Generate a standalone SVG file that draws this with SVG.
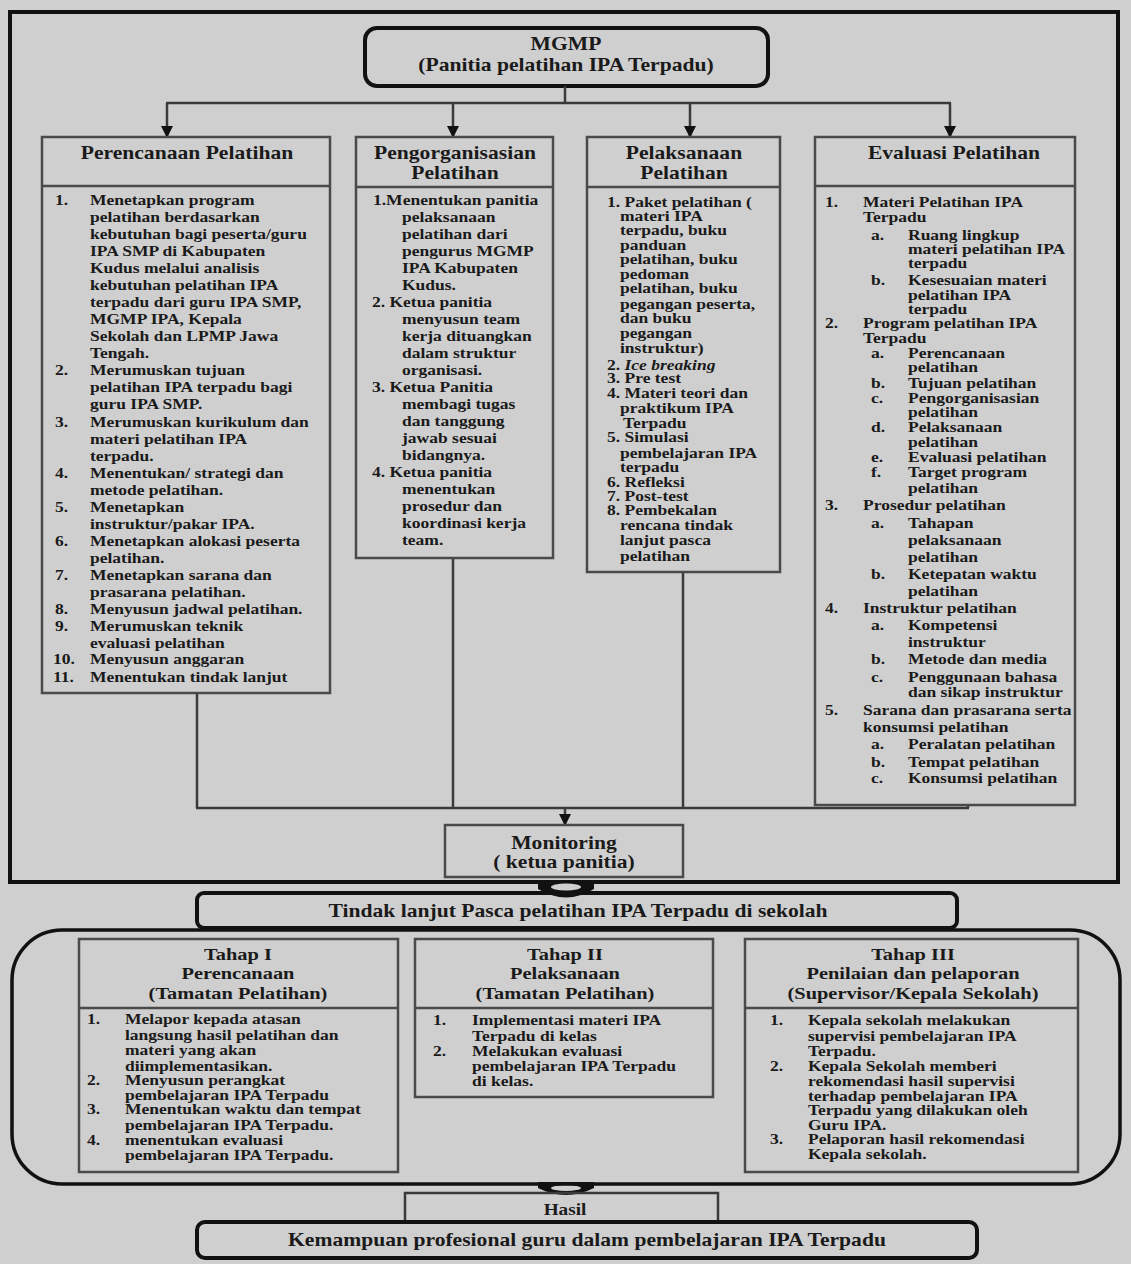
<svg xmlns="http://www.w3.org/2000/svg" width="1131" height="1264" viewBox="0 0 1131 1264">
<style>
.t{font-family:"Liberation Serif","Times New Roman",serif;font-weight:bold;font-size:14.6px;fill:#1a1a1a}
.h{font-size:18px;text-anchor:middle}
.h2{font-size:17px}
.it{font-style:italic}
.box{fill:none;stroke:#4a4a4a;stroke-width:2.5}
.hd{stroke:#4a4a4a;stroke-width:2.5}
.thick{fill:none;stroke:#111;stroke-width:4}
.con{fill:none;stroke:#3a3a3a;stroke-width:2.5}
</style>
<defs>
<marker id="ah" markerUnits="userSpaceOnUse" markerWidth="12" markerHeight="12" refX="11" refY="6" orient="auto" viewBox="0 0 12 12">
<path d="M0,0 L12,6 L0,12 Z" fill="#111"/>
</marker>
</defs>
<rect width="1131" height="1264" fill="#cfcfcf"/>
<rect x="10" y="12" width="1108" height="870" class="thick"/>

<g id="mgmp">
<rect x="365" y="28" width="403" height="58" rx="12" class="thick"/>
<g transform="scale(1.2 1)">
<text class="t h" x="471.67" y="50">MGMP</text>
<text class="t h" x="471.67" y="71">(Panitia pelatihan IPA Terpadu)</text>
</g>
</g>

<g id="connectors">
<line x1="565" y1="86" x2="565" y2="103" class="con"/>
<line x1="166" y1="103" x2="951" y2="103" class="con"/>
<line x1="167" y1="103" x2="167" y2="137" class="con" marker-end="url(#ah)"/>
<line x1="453" y1="103" x2="453" y2="137" class="con" marker-end="url(#ah)"/>
<line x1="690" y1="103" x2="690" y2="137" class="con" marker-end="url(#ah)"/>
<line x1="950" y1="103" x2="950" y2="137" class="con" marker-end="url(#ah)"/>
<line x1="197" y1="693" x2="197" y2="808" class="con"/>
<line x1="453" y1="558" x2="453" y2="808" class="con"/>
<line x1="683" y1="572" x2="683" y2="808" class="con"/>
<line x1="968" y1="805" x2="968" y2="808" class="con"/>
<line x1="196" y1="808" x2="969" y2="808" class="con"/>
<line x1="565" y1="808" x2="565" y2="825" class="con" marker-end="url(#ah)"/>
<path d="M538,880 L594,880 L594,889 Q566,906 538,889 Z" fill="#111"/>
<ellipse cx="566" cy="887" rx="15" ry="3.5" fill="#cfcfcf"/>
<path d="M538,1182 L594,1182 L594,1188 Q566,1202 538,1188 Z" fill="#111"/>
<ellipse cx="566" cy="1188" rx="15" ry="3" fill="#cfcfcf"/>
</g>

<g id="perencanaan">
<rect x="42" y="137" width="288" height="556" class="box"/>
<line x1="42" y1="186" x2="330" y2="186" class="hd"/>
<g transform="scale(1.2 1)">
<text class="t h" x="155.83" y="159">Perencanaan Pelatihan</text>
<text class="t" x="45.83" y="205">1.</text>
<text class="t" x="75" y="205">Menetapkan program</text>
<text class="t" x="75" y="222">pelatihan berdasarkan</text>
<text class="t" x="75" y="239">kebutuhan bagi peserta/guru</text>
<text class="t" x="75" y="256">IPA SMP di Kabupaten</text>
<text class="t" x="75" y="273">Kudus melalui analisis</text>
<text class="t" x="75" y="290">kebutuhan pelatihan IPA</text>
<text class="t" x="75" y="307">terpadu dari guru IPA SMP,</text>
<text class="t" x="75" y="324">MGMP IPA, Kepala</text>
<text class="t" x="75" y="341">Sekolah dan LPMP Jawa</text>
<text class="t" x="75" y="358">Tengah.</text>
<text class="t" x="45.83" y="375">2.</text>
<text class="t" x="75" y="375">Merumuskan tujuan</text>
<text class="t" x="75" y="392">pelatihan IPA terpadu bagi</text>
<text class="t" x="75" y="409">guru IPA SMP.</text>
<text class="t" x="45.83" y="427">3.</text>
<text class="t" x="75" y="427">Merumuskan kurikulum dan</text>
<text class="t" x="75" y="444">materi  pelatihan IPA</text>
<text class="t" x="75" y="461">terpadu.</text>
<text class="t" x="45.83" y="478">4.</text>
<text class="t" x="75" y="478">Menentukan/ strategi dan</text>
<text class="t" x="75" y="495">metode pelatihan.</text>
<text class="t" x="45.83" y="512">5.</text>
<text class="t" x="75" y="512">Menetapkan</text>
<text class="t" x="75" y="529">instruktur/pakar IPA.</text>
<text class="t" x="45.83" y="546">6.</text>
<text class="t" x="75" y="546">Menetapkan alokasi peserta</text>
<text class="t" x="75" y="563">pelatihan.</text>
<text class="t" x="45.83" y="580">7.</text>
<text class="t" x="75" y="580">Menetapkan sarana dan</text>
<text class="t" x="75" y="597">prasarana pelatihan.</text>
<text class="t" x="45.83" y="614">8.</text>
<text class="t" x="75" y="614">Menyusun jadwal pelatihan.</text>
<text class="t" x="45.83" y="631">9.</text>
<text class="t" x="75" y="631">Merumuskan teknik</text>
<text class="t" x="75" y="648">evaluasi pelatihan</text>
<text class="t" x="44.17" y="664">10.</text>
<text class="t" x="75" y="664">Menyusun anggaran</text>
<text class="t" x="44.17" y="682">11.</text>
<text class="t" x="75" y="682">Menentukan tindak lanjut</text>
</g>
</g>

<g id="pengorganisasian">
<rect x="356" y="137" width="197" height="421" class="box"/>
<line x1="356" y1="187" x2="553" y2="187" class="hd"/>
<g transform="scale(1.2 1)">
<text class="t h" x="379.17" y="159">Pengorganisasian</text>
<text class="t h" x="379.17" y="179">Pelatihan</text>
<text class="t" x="310.83" y="205">1.Menentukan panitia</text>
<text class="t" x="335" y="222">pelaksanaan</text>
<text class="t" x="335" y="239">pelatihan dari</text>
<text class="t" x="335" y="256">pengurus MGMP</text>
<text class="t" x="335" y="273">IPA Kabupaten</text>
<text class="t" x="335" y="290">Kudus.</text>
<text class="t" x="310" y="307">2. Ketua panitia</text>
<text class="t" x="335" y="324">menyusun team</text>
<text class="t" x="335" y="341">kerja dituangkan</text>
<text class="t" x="335" y="358">dalam struktur</text>
<text class="t" x="335" y="375">organisasi.</text>
<text class="t" x="310" y="392">3. Ketua Panitia</text>
<text class="t" x="335" y="409">membagi tugas</text>
<text class="t" x="335" y="426">dan tanggung</text>
<text class="t" x="335" y="443">jawab sesuai</text>
<text class="t" x="335" y="460">bidangnya.</text>
<text class="t" x="310" y="477">4. Ketua panitia</text>
<text class="t" x="335" y="494">menentukan</text>
<text class="t" x="335" y="511">prosedur dan</text>
<text class="t" x="335" y="528">koordinasi kerja</text>
<text class="t" x="335" y="545">team.</text>
</g>
</g>

<g id="pelaksanaan">
<rect x="587" y="137" width="193" height="435" class="box"/>
<line x1="587" y1="187" x2="780" y2="187" class="hd"/>
<g transform="scale(1.2 1)">
<text class="t h" x="570" y="159">Pelaksanaan</text>
<text class="t h" x="570" y="179">Pelatihan</text>
<text class="t" x="505.83" y="207">1. Paket pelatihan (</text>
<text class="t" x="516.67" y="221">materi IPA</text>
<text class="t" x="516.67" y="235">terpadu, buku</text>
<text class="t" x="516.67" y="250">panduan</text>
<text class="t" x="516.67" y="264">pelatihan, buku</text>
<text class="t" x="516.67" y="279">pedoman</text>
<text class="t" x="516.67" y="293">pelatihan, buku</text>
<text class="t" x="516.67" y="309">pegangan peserta,</text>
<text class="t" x="516.67" y="323">dan buku</text>
<text class="t" x="516.67" y="338">pegangan</text>
<text class="t" x="516.67" y="353">instruktur)</text>
<text class="t" x="505.83" y="370">2. <tspan class="it">Ice breaking</tspan></text>
<text class="t" x="505.83" y="383">3. Pre test</text>
<text class="t" x="505.83" y="398">4. Materi teori dan</text>
<text class="t" x="516.67" y="413">praktikum IPA</text>
<text class="t" x="519.17" y="428">Terpadu</text>
<text class="t" x="505.83" y="442">5. Simulasi</text>
<text class="t" x="516.67" y="458">pembelajaran IPA</text>
<text class="t" x="516.67" y="472">terpadu</text>
<text class="t" x="505.83" y="487">6. Refleksi</text>
<text class="t" x="505.83" y="501">7. Post-test</text>
<text class="t" x="505.83" y="515">8. Pembekalan</text>
<text class="t" x="516.67" y="530">rencana tindak</text>
<text class="t" x="516.67" y="545">lanjut pasca</text>
<text class="t" x="516.67" y="561">pelatihan</text>
</g>
</g>

<g id="evaluasi">
<rect x="815" y="137" width="260" height="668" class="box"/>
<line x1="815" y1="186" x2="1075" y2="186" class="hd"/>
<g transform="scale(1.2 1)">
<text class="t h" x="795" y="159">Evaluasi Pelatihan</text>
<text class="t" x="687.5" y="207">1.</text>
<text class="t" x="719.17" y="207">Materi Pelatihan IPA</text>
<text class="t" x="719.17" y="222">Terpadu</text>
<text class="t" x="725.83" y="240">a.</text>
<text class="t" x="756.67" y="240">Ruang lingkup</text>
<text class="t" x="756.67" y="254">materi pelatihan IPA</text>
<text class="t" x="756.67" y="268">terpadu</text>
<text class="t" x="725.83" y="285">b.</text>
<text class="t" x="756.67" y="285">Kesesuaian  materi</text>
<text class="t" x="756.67" y="300">pelatihan IPA</text>
<text class="t" x="756.67" y="314">terpadu</text>
<text class="t" x="687.5" y="328">2.</text>
<text class="t" x="719.17" y="328">Program pelatihan IPA</text>
<text class="t" x="719.17" y="343">Terpadu</text>
<text class="t" x="725.83" y="358">a.</text>
<text class="t" x="756.67" y="358">Perencanaan</text>
<text class="t" x="756.67" y="372">pelatihan</text>
<text class="t" x="725.83" y="388">b.</text>
<text class="t" x="756.67" y="388">Tujuan pelatihan</text>
<text class="t" x="725.83" y="403">c.</text>
<text class="t" x="756.67" y="403">Pengorganisasian</text>
<text class="t" x="756.67" y="417">pelatihan</text>
<text class="t" x="725.83" y="432">d.</text>
<text class="t" x="756.67" y="432">Pelaksanaan</text>
<text class="t" x="756.67" y="447">pelatihan</text>
<text class="t" x="725.83" y="462">e.</text>
<text class="t" x="756.67" y="462">Evaluasi pelatihan</text>
<text class="t" x="725.83" y="477">f.</text>
<text class="t" x="756.67" y="477">Target program</text>
<text class="t" x="756.67" y="493">pelatihan</text>
<text class="t" x="687.5" y="510">3.</text>
<text class="t" x="719.17" y="510">Prosedur pelatihan</text>
<text class="t" x="725.83" y="528">a.</text>
<text class="t" x="756.67" y="528">Tahapan</text>
<text class="t" x="756.67" y="545">pelaksanaan</text>
<text class="t" x="756.67" y="562">pelatihan</text>
<text class="t" x="725.83" y="579">b.</text>
<text class="t" x="756.67" y="579">Ketepatan waktu</text>
<text class="t" x="756.67" y="596">pelatihan</text>
<text class="t" x="687.5" y="613">4.</text>
<text class="t" x="719.17" y="613">Instruktur pelatihan</text>
<text class="t" x="725.83" y="630">a.</text>
<text class="t" x="756.67" y="630">Kompetensi</text>
<text class="t" x="756.67" y="647">instruktur</text>
<text class="t" x="725.83" y="664">b.</text>
<text class="t" x="756.67" y="664">Metode dan media</text>
<text class="t" x="725.83" y="682">c.</text>
<text class="t" x="756.67" y="682">Penggunaan bahasa</text>
<text class="t" x="756.67" y="697">dan sikap instruktur</text>
<text class="t" x="687.5" y="715">5.</text>
<text class="t" x="719.17" y="715">Sarana dan prasarana serta</text>
<text class="t" x="719.17" y="732">konsumsi pelatihan</text>
<text class="t" x="725.83" y="749">a.</text>
<text class="t" x="756.67" y="749">Peralatan pelatihan</text>
<text class="t" x="725.83" y="767">b.</text>
<text class="t" x="756.67" y="767">Tempat pelatihan</text>
<text class="t" x="725.83" y="783">c.</text>
<text class="t" x="756.67" y="783">Konsumsi pelatihan</text>
</g>
</g>

<g id="monitoring">
<rect x="445" y="825" width="238" height="52" class="box"/>
<g transform="scale(1.2 1)">
<text class="t h" x="470" y="849">Monitoring</text>
<text class="t h" x="470" y="868">( ketua panitia)</text>
</g>
</g>

<g id="tindak-lanjut">
<rect x="197" y="893" width="760" height="35" rx="7" class="thick"/>
<g transform="scale(1.2 1)">
<text class="t h" x="481.67" y="917">Tindak lanjut Pasca pelatihan IPA Terpadu di sekolah</text>
</g>
</g>

<g id="tahap-group">
<rect x="12" y="930" width="1108" height="254" rx="50" fill="none" stroke="#111" stroke-width="3.5"/>
</g>

<g id="tahap1">
<rect x="79" y="939" width="319" height="233" class="box"/>
<line x1="79" y1="1008" x2="398" y2="1008" class="hd"/>
<g transform="scale(1.2 1)">
<text class="t h h2" x="198.33" y="960">Tahap I</text>
<text class="t h h2" x="198.33" y="979">Perencanaan</text>
<text class="t h h2" x="198.33" y="999">(Tamatan Pelatihan)</text>
<text class="t" x="72.5" y="1024">1.</text>
<text class="t" x="104.17" y="1024">Melapor kepada atasan</text>
<text class="t" x="104.17" y="1040">langsung hasil pelatihan dan</text>
<text class="t" x="104.17" y="1055">materi yang akan</text>
<text class="t" x="104.17" y="1071">diimplementasikan.</text>
<text class="t" x="72.5" y="1085">2.</text>
<text class="t" x="104.17" y="1085">Menyusun perangkat</text>
<text class="t" x="104.17" y="1100">pembelajaran IPA Terpadu</text>
<text class="t" x="72.5" y="1114">3.</text>
<text class="t" x="104.17" y="1114">Menentukan waktu dan tempat</text>
<text class="t" x="104.17" y="1130">pembelajaran IPA Terpadu.</text>
<text class="t" x="72.5" y="1145">4.</text>
<text class="t" x="104.17" y="1145">menentukan evaluasi</text>
<text class="t" x="104.17" y="1160">pembelajaran IPA Terpadu.</text>
</g>
</g>

<g id="tahap2">
<rect x="415" y="939" width="298" height="158" class="box"/>
<line x1="415" y1="1008" x2="713" y2="1008" class="hd"/>
<g transform="scale(1.2 1)">
<text class="t h h2" x="470.83" y="960">Tahap II</text>
<text class="t h h2" x="470.83" y="979">Pelaksanaan</text>
<text class="t h h2" x="470.83" y="999">(Tamatan Pelatihan)</text>
<text class="t" x="360.83" y="1025">1.</text>
<text class="t" x="393.33" y="1025">Implementasi materi IPA</text>
<text class="t" x="393.33" y="1041">Terpadu di kelas</text>
<text class="t" x="360.83" y="1056">2.</text>
<text class="t" x="393.33" y="1056">Melakukan evaluasi</text>
<text class="t" x="393.33" y="1071">pembelajaran IPA Terpadu</text>
<text class="t" x="393.33" y="1086">di kelas.</text>
</g>
</g>

<g id="tahap3">
<rect x="745" y="939" width="333" height="233" class="box"/>
<line x1="745" y1="1008" x2="1078" y2="1008" class="hd"/>
<g transform="scale(1.2 1)">
<text class="t h h2" x="760.83" y="960">Tahap III</text>
<text class="t h h2" x="760.83" y="979">Penilaian dan pelaporan</text>
<text class="t h h2" x="760.83" y="999">(Supervisor/Kepala Sekolah)</text>
<text class="t" x="641.67" y="1025">1.</text>
<text class="t" x="673.33" y="1025">Kepala sekolah melakukan</text>
<text class="t" x="673.33" y="1041">supervisi pembelajaran IPA</text>
<text class="t" x="673.33" y="1056">Terpadu.</text>
<text class="t" x="641.67" y="1071">2.</text>
<text class="t" x="673.33" y="1071">Kepala Sekolah memberi</text>
<text class="t" x="673.33" y="1086">rekomendasi hasil supervisi</text>
<text class="t" x="673.33" y="1101">terhadap pembelajaran IPA</text>
<text class="t" x="673.33" y="1115">Terpadu yang dilakukan oleh</text>
<text class="t" x="673.33" y="1130">Guru IPA.</text>
<text class="t" x="641.67" y="1144">3.</text>
<text class="t" x="673.33" y="1144">Pelaporan hasil rekomendasi</text>
<text class="t" x="673.33" y="1159">Kepala sekolah.</text>
</g>
</g>

<g id="hasil">
<path d="M405,1222 V1193 H718 V1222" fill="none" stroke="#3a3a3a" stroke-width="2.5"/>
<g transform="scale(1.2 1)">
<text class="t h" x="470.83" y="1215" style="font-size:16px">Hasil</text>
</g>
</g>

<g id="kemampuan">
<rect x="197" y="1222" width="780" height="36" rx="8" class="thick"/>
<g transform="scale(1.2 1)">
<text class="t h" x="489.17" y="1246">Kemampuan profesional guru dalam pembelajaran IPA Terpadu</text>
</g>
</g>
</svg>
